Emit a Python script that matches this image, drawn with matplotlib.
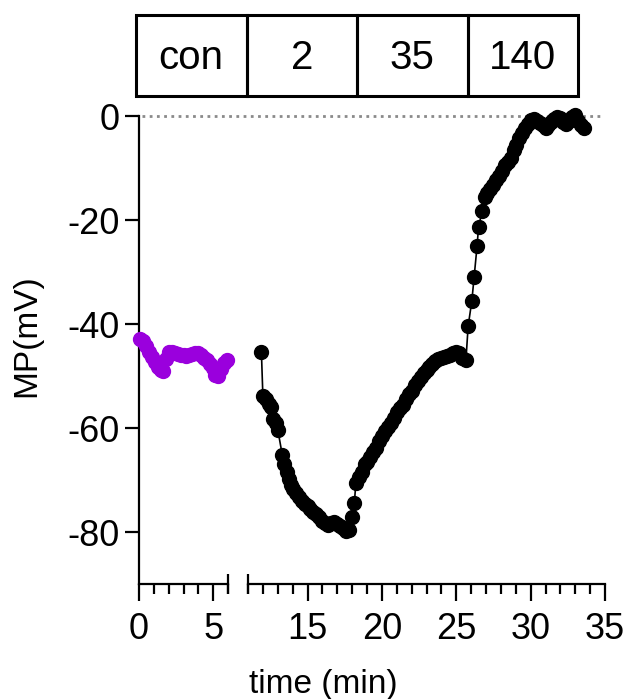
import numpy as np
import matplotlib.pyplot as plt
from matplotlib.patches import Rectangle
from matplotlib.ticker import MultipleLocator, FixedLocator

plt.rcParams['font.family'] = ['Liberation Sans', 'DejaVu Sans']
plt.rcParams['axes.unicode_minus'] = False

# control (purple), before the axis break
t_con = [0.05, 0.25, 0.45, 0.65, 0.85, 1.05, 1.25, 1.45, 1.65, 1.85, 2.0, 2.2, 2.4,
         2.6, 2.8, 3.0, 3.2, 3.4, 3.6, 3.8, 4.0, 4.2, 4.4, 4.6, 4.8, 5.0, 5.15, 5.3,
         5.5, 5.7, 5.9]
mp_con = [-42.8, -43.3, -44.2, -45.3, -46.3, -47.3, -48.2, -48.9, -49.0, -46.8, -45.3,
          -45.4, -45.6, -45.8, -45.9, -46.0, -46.1, -46.0, -45.8, -45.6, -45.6, -46.0,
          -46.6, -47.0, -47.6, -48.4, -49.8, -50.0, -48.6, -47.5, -47.0]

# after the break (black)
t_drug = [11.9, 12.0, 12.2, 12.4, 12.55, 12.7, 12.85, 13.0, 13.3, 13.45, 13.6, 13.75,
          13.9, 14.05, 14.2, 14.4, 14.6, 14.8, 15.0, 15.2, 15.4, 15.6, 15.8, 16.0, 16.2,
          16.4, 16.6, 16.8, 17.0, 17.2, 17.4, 17.6, 17.8, 18.0, 18.15, 18.25, 18.45,
          18.65, 18.85, 19.0, 19.2, 19.4, 19.6, 19.8, 20.0, 20.2, 20.4, 20.6, 20.8,
          21.0, 21.2, 21.4, 21.6, 21.8, 22.0, 22.2, 22.4, 22.6, 22.8, 23.0, 23.2, 23.4,
          23.6, 23.8, 24.0, 24.2, 24.4, 24.6, 24.8, 25.0, 25.2, 25.4, 25.65, 25.8,
          26.05, 26.2, 26.4, 26.5, 26.75, 26.9, 27.1, 27.3, 27.5, 27.7, 27.9, 28.1,
          28.3, 28.5, 28.7, 28.85, 29.0, 29.2, 29.4, 29.6, 29.8, 30.0, 30.2, 30.4,
          30.6, 30.8, 31.0, 31.2, 31.4, 31.6, 31.8, 32.0, 32.2, 32.4, 32.6, 32.8,
          33.0, 33.2, 33.4, 33.6]
mp_drug = [-45.3, -53.8, -54.5, -55.3, -55.9, -58.3, -59.0, -60.3, -65.1, -67.0, -68.5,
           -69.8, -71.0, -71.8, -72.5, -73.2, -74.0, -74.6, -75.0, -75.6, -76.2, -76.6,
           -77.2, -77.8, -78.3, -78.6, -78.2, -78.0, -78.5, -78.8, -79.3, -79.8, -79.6,
           -77.2, -74.5, -70.5, -69.5, -68.5, -67.0, -66.5, -65.5, -64.7, -63.8, -62.5,
           -61.5, -60.5, -59.8, -59.0, -58.0, -57.0, -56.2, -55.5, -54.5, -53.5, -52.8,
           -51.8, -51.0, -50.2, -49.5, -48.8, -48.2, -47.6, -47.2, -46.8, -46.5, -46.4,
           -46.2, -46.0, -45.6, -45.4, -45.5, -46.5, -47.0, -40.4, -35.5, -31.0, -25.0,
           -21.3, -18.2, -15.5, -14.8, -14.0, -13.3, -12.4, -11.5, -10.5, -9.5, -8.8,
           -8.0, -6.5, -5.5, -4.3, -3.3, -2.3, -1.5, -0.8, -0.6, -1.0, -1.4, -1.8, -2.3,
           -1.8, -1.2, -0.6, -0.2, -0.4, -1.2, -1.6, -1.0, -0.2, 0.2, -0.9, -1.7, -2.3]

cells = ['con', '2', '35', '140']

W, H = 630, 699
fig = plt.figure(figsize=(6.3, 6.99), dpi=100)

bot = 1 - 584 / H
hgt = (584 - 116) / H
ax1 = fig.add_axes([139 / W, bot, 89 / W, hgt])
ax2 = fig.add_axes([248 / W, bot, 357 / W, hgt])

purple = '#9A00DD'
ax1.plot(t_con, mp_con, '-', color=purple, lw=1.2, marker='o', ms=10, mec=purple,
         mfc=purple, clip_on=False, zorder=3)
ax2.plot(t_drug, mp_drug, '-', color='black', lw=1.2, marker='o', ms=10,
         clip_on=False, zorder=3)

# dotted zero line, runs across the break
ax2.axhline(0, xmin=(142 - 248) / 357, xmax=(600 - 248) / 357, color='#8a8a8a',
            ls=(0, (1, 1.6)), lw=2, clip_on=False, zorder=1)

for ax in (ax1, ax2):
    ax.set_ylim(-90, 0)
    ax.spines['top'].set_visible(False)
    ax.spines['right'].set_visible(False)
    ax.spines['bottom'].set_linewidth(1.6)
    ax.tick_params(axis='x', which='major', length=12, width=1.6, labelsize=26, pad=8)
    ax.tick_params(axis='x', which='minor', length=7, width=1.6)
    ax.xaxis.set_minor_locator(MultipleLocator(1))

ax1.set_xlim(0, 6)
ax1.xaxis.set_major_locator(FixedLocator([0, 5]))
ax1.spines['left'].set_linewidth(1.6)
ax1.yaxis.set_major_locator(MultipleLocator(20))
ax1.tick_params(axis='y', length=10, width=1.6, labelsize=26, pad=4)
ax1.plot([6], [-90], marker='|', ms=14, mew=1.6, color='black', clip_on=False)

ax2.set_xlim(11, 35)
ax2.xaxis.set_major_locator(FixedLocator([15, 20, 25, 30, 35]))
ax2.spines['left'].set_visible(False)
ax2.set_yticks([])
ax2.plot([11], [-90], marker='|', ms=14, mew=1.6, color='black', clip_on=False)

fig.text(27 / W, 1 - 336 / H, 'MP(mV)', rotation=90, ha='center', va='center',
         fontsize=24)
fig.text(323 / W, 1 - 684 / H, 'time (min)', ha='center', va='center', fontsize=24)

# condition table on top
tab = fig.add_axes([136 / W, 1 - 96 / H, 442 / W, 81 / H])
tab.set_xlim(0, len(cells))
tab.set_ylim(0, 1)
tab.axis('off')
for i, lab in enumerate(cells):
    tab.add_patch(Rectangle((i, 0), 1, 1, fill=False, lw=2.2, ec='black',
                            clip_on=False))
    tab.text(i + 0.5, 0.47, lab, ha='center', va='center', fontsize=29)

fig.savefig('out.png', dpi=100)
